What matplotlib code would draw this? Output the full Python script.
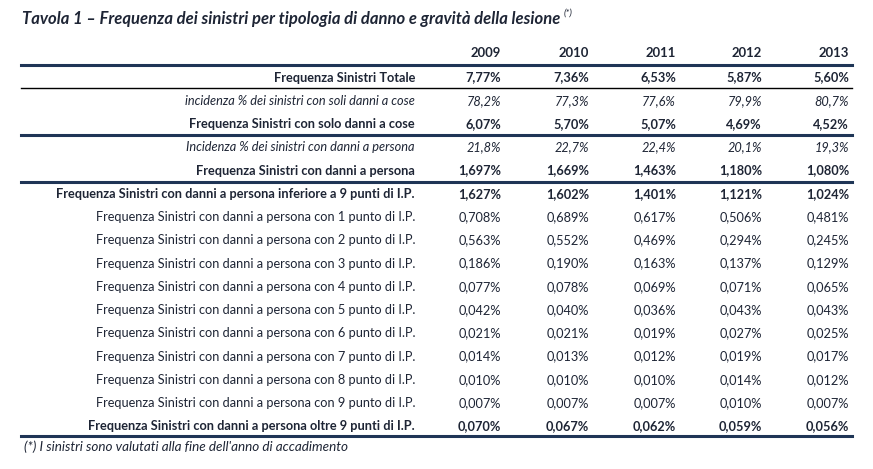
import matplotlib.pyplot as plt

anni = ["2009", "2010", "2011", "2012", "2013"]

etichette = [
    "Frequenza Sinistri Totale",
    "incidenza % dei sinistri con soli danni a cose",
    "Frequenza Sinistri con solo danni a cose",
    "Incidenza % dei sinistri con danni a persona",
    "Frequenza Sinistri con danni a persona",
    "Frequenza Sinistri con danni a persona inferiore a 9 punti di I.P.",
    "Frequenza Sinistri con danni a persona con 1 punto di I.P.",
    "Frequenza Sinistri con danni a persona con 2 punto di I.P.",
    "Frequenza Sinistri con danni a persona con 3 punto di I.P.",
    "Frequenza Sinistri con danni a persona con 4 punto di I.P.",
    "Frequenza Sinistri con danni a persona con 5 punto di I.P.",
    "Frequenza Sinistri con danni a persona con 6 punto di I.P.",
    "Frequenza Sinistri con danni a persona con 7 punto di I.P.",
    "Frequenza Sinistri con danni a persona con 8 punto di I.P.",
    "Frequenza Sinistri con danni a persona con 9 punto di I.P.",
    "Frequenza Sinistri con danni a persona oltre 9 punti di I.P.",
]

valori = [
    ["7,77%", "7,36%", "6,53%", "5,87%", "5,60%"],
    ["78,2%", "77,3%", "77,6%", "79,9%", "80,7%"],
    ["6,07%", "5,70%", "5,07%", "4,69%", "4,52%"],
    ["21,8%", "22,7%", "22,4%", "20,1%", "19,3%"],
    ["1,697%", "1,669%", "1,463%", "1,180%", "1,080%"],
    ["1,627%", "1,602%", "1,401%", "1,121%", "1,024%"],
    ["0,708%", "0,689%", "0,617%", "0,506%", "0,481%"],
    ["0,563%", "0,552%", "0,469%", "0,294%", "0,245%"],
    ["0,186%", "0,190%", "0,163%", "0,137%", "0,129%"],
    ["0,077%", "0,078%", "0,069%", "0,071%", "0,065%"],
    ["0,042%", "0,040%", "0,036%", "0,043%", "0,043%"],
    ["0,021%", "0,021%", "0,019%", "0,027%", "0,025%"],
    ["0,014%", "0,013%", "0,012%", "0,019%", "0,017%"],
    ["0,010%", "0,010%", "0,010%", "0,014%", "0,012%"],
    ["0,007%", "0,007%", "0,007%", "0,010%", "0,007%"],
    ["0,070%", "0,067%", "0,062%", "0,059%", "0,056%"],
]

# b = grassetto, i = corsivo, n = normale
stili = ["b", "i", "b", "i", "b", "b", "n", "n", "n", "n", "n", "n", "n", "n", "n", "b"]

titolo = "Tavola 1 – Frequenza dei sinistri per tipologia di danno e gravità della lesione"
nota = "(*) I sinistri sono valutati alla fine dell'anno di accadimento"

plt.rcParams['font.family'] = ['Lato', 'DejaVu Sans']
testo = '#1e2535'
navy = '#1f3556'

fig = plt.figure(figsize=(8.73, 4.69), dpi=100)
ax = fig.add_axes([0, 0, 1, 1])
ax.set_xlim(0, 873)
ax.set_ylim(469, 0)
ax.axis('off')

fs = 9.15
x_lab = 415
x_col = [501, 589, 676, 762, 849]
y0 = 77.5
dy = 23.26

t = ax.text(22, 19, titolo, fontsize=12, style='italic', fontweight='bold',
            color=testo, va='center', ha='left')
fig.canvas.draw()
bb = t.get_window_extent(fig.canvas.get_renderer())
x_fine = ax.transData.inverted().transform((bb.x1, bb.y1))[0]
ax.text(x_fine + 3, 13, "(*)", fontsize=7, style='italic', color=testo, va='center', ha='left')

for x, a in zip(x_col, anni):
    ax.text(x, 53, a, fontsize=fs + 0.3, fontweight='bold', color=testo, ha='right', va='center')

for i, (lab, riga, st) in enumerate(zip(etichette, valori, stili)):
    y = y0 + i * dy
    kw = dict(fontsize=fs, color=testo, va='center')
    if st == 'b':
        kw['fontweight'] = 'bold'
    elif st == 'i':
        kw['style'] = 'italic'
    ax.text(x_lab, y, lab, ha='right', **kw)
    for x, v in zip(x_col, riga):
        ax.text(x, y, v, ha='right', **kw)

# linee orizzontali
ax.plot([21, 852], [65, 65], color=navy, lw=2.2)
ax.plot([21, 852], [88.5, 88.5], color='black', lw=1.0)
ax.plot([21, 852], [135, 135], color=navy, lw=2.2)
ax.plot([21, 852], [182, 182], color=navy, lw=2.2)
ax.plot([21, 852], [436.5, 436.5], color=navy, lw=2.2)

ax.text(24, 447, nota, fontsize=9.75, style='italic', color=testo, va='center', ha='left')

fig.savefig('out.png', dpi=100)
